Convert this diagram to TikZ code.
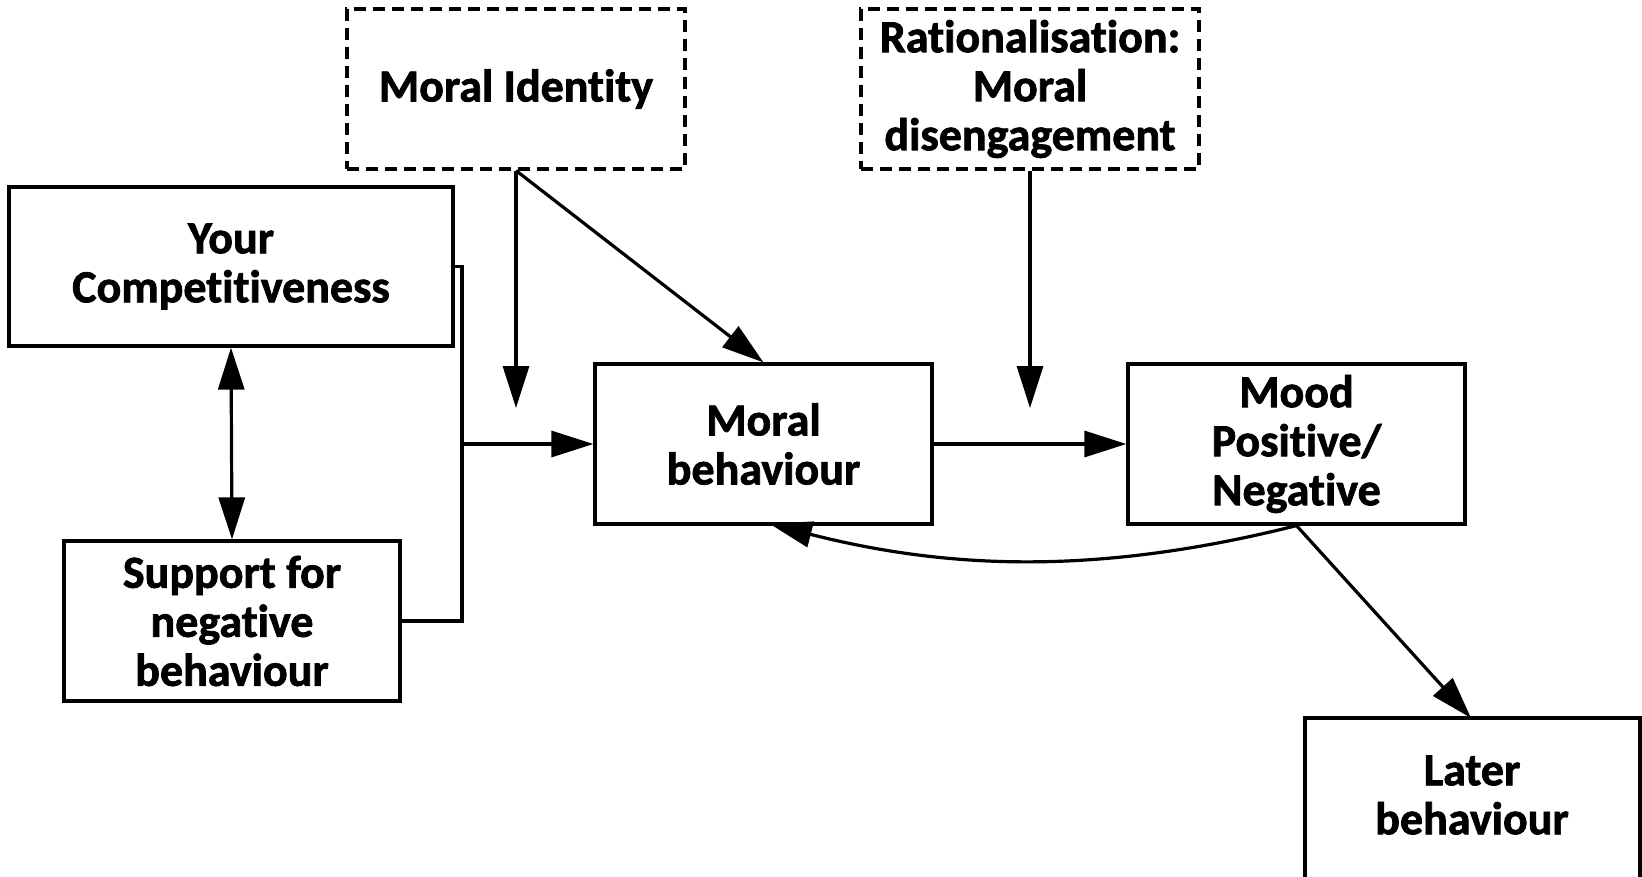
\documentclass[tikz,border=0pt]{standalone}
\usepackage{fontspec}
\setmainfont{Carlito}[Ligatures={NoCommon}, BoldFeatures={FakeBold=1.6, Ligatures={NoCommon}}]
\usetikzlibrary{arrows.meta}
\begin{document}
\begin{tikzpicture}[x=1pt,y=-1pt,
  lbl/.style={align=center, inner sep=0pt, font=\fontsize{46}{49}\selectfont\bfseries},
  box/.style={lbl, draw, line width=3.2pt, minimum width=#1, minimum height=160pt},
  dbox/.style={box=#1, dash pattern=on 12pt off 7pt},
  conn/.style={line width=3.2pt},
  arr/.style={conn, -{Triangle[length=42pt,width=26pt]}},
  darr/.style={conn, {Triangle[length=42pt,width=26pt]}-{Triangle[length=42pt,width=26pt]}}]
\useasboundingbox (0,0) rectangle (1642,876);
\node[dbox=338pt] (MI) at (516,89) {Moral Identity};
\node[dbox=338pt] (RA) at (1030,89) {Rationalisation:\\Moral\\disengagement};
\node[box=444pt, minimum height=159pt] (YC) at (231,266.5) {Your\\Competitiveness};
\node[box=336pt] (SN) at (232,621) {Support for\\negative\\behaviour};
\node[box=337pt] (MB) at (763.5,444) {Moral\\behaviour};
\node[box=337pt] (MO) at (1296.5,444) {Mood\\Positive/\\Negative};
\node[lbl] (LB) at (1472,795) {Later\\behaviour};
\coordinate (LBtl) at (1305,718);
\coordinate (LBtr) at (1640,718);
\coordinate (LBbl) at (1305,890);
\coordinate (LBbr) at (1640,890);
\coordinate (LBn) at (1471,718);
\draw[line width=3.2pt] (LBbl) -- (LBtl) -- (LBtr) -- (LBbr);
\coordinate (b1) at (462,266.5);
\coordinate (b2) at (462,621);
\coordinate (bj) at (462,444);
\coordinate (MIt) at (516,408);
\coordinate (RAt) at (1030,408);
\coordinate (MBc) at (770,524);
\draw[conn] (YC.east) -- (b1) -- (b2) -- (SN.east);
\draw[arr] (bj) -- (MB.west);
\draw[arr] (MI.south) -- (MIt);
\draw[arr] (MI.south) -- (MB.north);
\draw[arr] (RA.south) -- (RAt);
\draw[darr] (YC.south) -- (SN.north);
\draw[arr] (MB.east) -- (MO.west);
\draw[arr] (MO.south) -- (LBn);
\draw[arr] (MO.south) .. controls (1100,575) and (950,570) .. (MBc);
\end{tikzpicture}
\end{document}
